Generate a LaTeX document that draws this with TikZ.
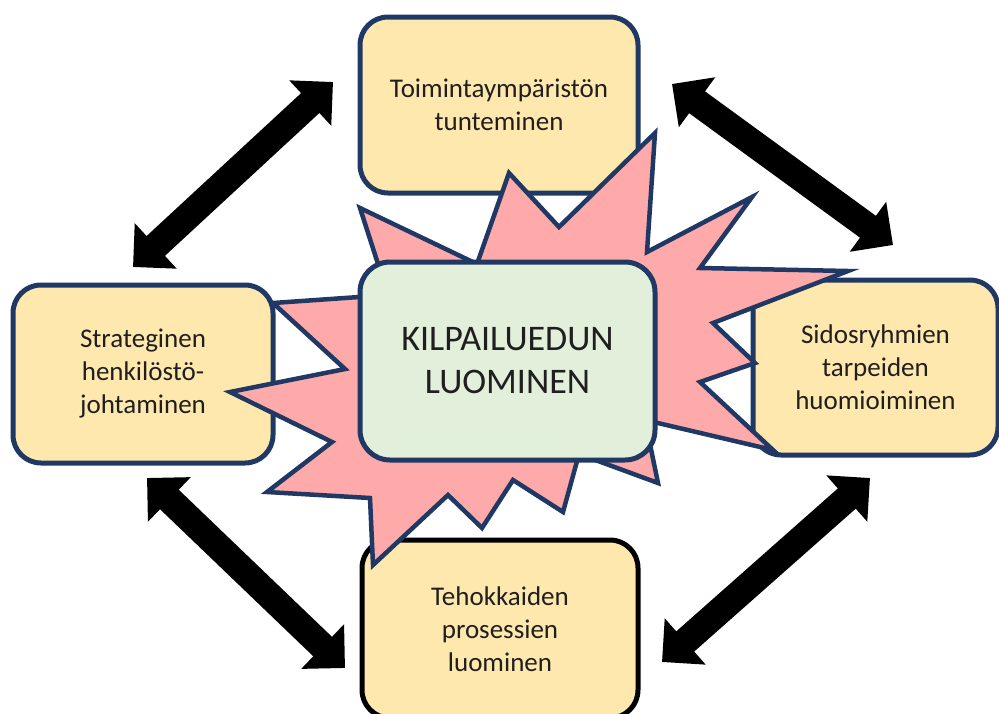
\documentclass[tikz,border=0pt]{standalone}
\usepackage{fontspec}
\setmainfont{Carlito}
\usepackage{tikz}
\usetikzlibrary{arrows.meta,positioning,calc}
\definecolor{EdgeNavy}{HTML}{1F3864}
\definecolor{SandFill}{HTML}{FFE8AE}
\definecolor{BurstRose}{HTML}{FFAAAA}
\definecolor{CoreMint}{HTML}{E2EFDA}

\begin{document}
\begin{tikzpicture}[x=1pt,y=-1pt, every node/.style={font=\fontsize{27}{33}\selectfont,text=black!88},
  topic/.style={draw=EdgeNavy,line width=5pt,rounded corners=28pt,fill=SandFill,align=center,inner sep=0pt,minimum width=#1},
  core/.style={draw=EdgeNavy,line width=5pt,rounded corners=30pt,fill=CoreMint,align=center,minimum width=295pt,minimum height=198pt,font=\fontsize{36}{43}\selectfont},
  link/.style={line width=27pt,{Triangle[length=31pt,width=60pt]}-{Triangle[length=31pt,width=60pt]}}]
\useasboundingbox (0,0) rectangle (999,713);
% the four themes
\node[topic=278pt,minimum height=176pt] (env) at (499,105) {Toimintaympäristön\\tunteminen};
\node[topic=260pt,minimum height=178pt] (hr) at (143,374) {Strateginen\\henkilöstö-\\johtaminen};
\node[topic=245pt,minimum height=175pt] (stake) at (875.5,367.5) {Sidosryhmien\\tarpeiden\\huomioiminen};
\node[topic=276pt,minimum height=178pt,draw=black] (proc) at (500,629) {Tehokkaiden\\prosessien\\luominen};
% arrow ends
\coordinate (envW) at (333,82);  \coordinate (hrN) at (133,267);
\coordinate (envE) at (672,84);  \coordinate (stakeN) at (893,245);
\coordinate (hrS) at (147,478);  \coordinate (procW) at (345,668);
\coordinate (stakeS) at (870,478); \coordinate (procE) at (662,662);
\draw[link] (envW) -- (hrN);
\draw[link] (envE) -- (stakeN);
\draw[link] (hrS) -- (procW);
\draw[link] (stakeS) -- (procE);
% burst behind the core
\filldraw[draw=EdgeNavy,fill=BurstRose,line width=4.5pt,line join=miter]
  (655,133) -- (647,252) -- (752,197) -- (700,268) -- (848,271) -- (713,323)
  -- (755,363) -- (700,382) -- (773,450) -- (645,420) -- (658,483) -- (579,454)
  -- (563,512) -- (513,480) -- (482,528) -- (448,495) -- (373,565) -- (370,498)
  -- (267,492) -- (332,442) -- (230,392) -- (345,369) -- (273,303) -- (388,295)
  -- (360,208) -- (477,264) -- (509,173) -- (559,227) -- cycle;
\node[core] (edge) at (507.5,361) {KILPAILUEDUN\\LUOMINEN};
\end{tikzpicture}
\end{document}
